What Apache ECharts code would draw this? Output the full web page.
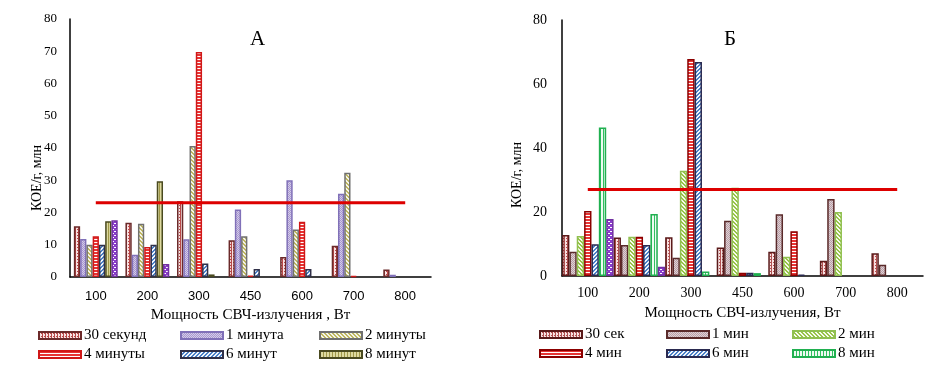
<!DOCTYPE html>
<html><head><meta charset="utf-8">
<script src="https://cdn.jsdelivr.net/npm/echarts@6/dist/echarts.min.js"></script>
<style>html,body{margin:0;padding:0;background:#fff}#c{width:943px;height:373px}</style>
</head><body><div id="c"></div>
<script>
// ---------- DATA ----------
const categories = ['100','200','300','450','600','700','800'];
const namesA = ['30 секунд','1 минута','2 минуты','4 минуты','6 минут','8 минут'];
const namesB = ['30 сек','1 мин','2 мин','4 мин','6 мин','8 мин'];
// Panel А
const a30s  = [15.7, 16.8, 23.5, 11.4, 6.2, 9.7, 2.3];
const a1m   = [11.8, 6.9, 11.7, 20.9, 30.0, 25.8, 0.7];
const a2m   = [10.0, 16.5, 40.6, 12.6, 14.7, 32.3, 0];
const a4m   = [12.6, 9.3, 69.8, 0.4, 17.1, 0.3, 0];
const a6m   = [10.0, 10.0, 4.2, 2.5, 2.5, 0, 0];
const a8m   = [17.3, 29.7, 0.8, 0, 0, 0, 0];
const aExtra = [17.6, 4.0, 0, 0, 0, 0, 0];
const aThreshold = [23, 23, 23, 23, 23, 23, 23];
// Panel Б
const b30s  = [12.8, 12.0, 12.1, 8.9, 7.6, 4.8, 7.1];
const b1m   = [7.6, 9.7, 5.7, 17.3, 19.3, 24.1, 3.5];
const b2m   = [12.5, 12.3, 32.9, 27.6, 6.0, 20.0, 0];
const b4m   = [20.3, 12.3, 67.8, 1.0, 14.0, 0, 0];
const b6m   = [9.9, 9.7, 66.9, 1.0, 0.4, 0, 0];
const b8m   = [46.4, 19.4, 1.4, 0.9, 0, 0, 0];
const bExtra = [17.8, 2.9, 0, 0, 0, 0, 0];
const bThreshold = [27, 27, 27, 27, 27, 27, 27];

// ---------- PATTERNS ----------
function pat(w, h, bg, draw) {
  const c = document.createElement('canvas'); c.width = w; c.height = h;
  const x = c.getContext('2d'); x.fillStyle = bg; x.fillRect(0, 0, w, h);
  draw(x); return { image: c, repeat: 'repeat' };
}
function dots(bg, fg) { return pat(3, 3, bg, x => { x.fillStyle = fg; x.fillRect(0, 0, 1, 3); x.fillRect(2, 1, 1, 1); }); }
function checker(bg, fg) { return pat(2, 2, bg, x => { x.fillStyle = fg; x.fillRect(0, 0, 1, 1); x.fillRect(1, 1, 1, 1); }); }
function back(bg, fg) { return pat(4, 4, bg, x => { x.fillStyle = fg; for (let i = 0; i < 4; i++) { x.fillRect(i, i, 1, 1); x.fillRect(i, (i + 1) % 4, 1, 1); } }); }
function fwd(bg, fg) { return pat(4, 4, bg, x => { x.fillStyle = fg; for (let i = 0; i < 4; i++) { x.fillRect(i, 3 - i, 1, 1); x.fillRect(i, (4 - i) % 4, 1, 1); } }); }
function hstripe(bg, fg) { return pat(1, 3, bg, x => { x.fillStyle = fg; x.fillRect(0, 2, 1, 1); }); }
function vstripe(bg, fg) { return pat(3, 1, bg, x => { x.fillStyle = fg; x.fillRect(0, 0, 1, 1); }); }
function cross(bg, fg) { return pat(4, 4, bg, x => { x.fillStyle = fg; x.fillRect(1, 1, 1, 1); x.fillRect(3, 3, 1, 1); x.fillRect(0,1,1,1); x.fillRect(2,3,1,1);}); }

const stylesA = [
  { fill: dots('#f8e2e2', '#b84848'), border: '#6b2a2a' },
  { fill: checker('#d4cce8', '#a898d0'), border: '#8070b8' },
  { fill: back('#f4f4ea', '#c0b860'), border: '#707070' },
  { fill: hstripe('#e83434', '#ffffff'), border: '#d01818' },
  { fill: fwd('#f2f6fc', '#4a80c8'), border: '#303048' },
  { fill: vstripe('#dedaa0', '#a09848'), border: '#4a4a20' },
  { fill: cross('#8a3ccc', '#ffffff'), border: '#7030a0' }
];
const stylesB = [
  { fill: dots('#f8e2e2', '#b05050'), border: '#5a1a1a' },
  { fill: checker('#e0d0d4', '#b8a0a8'), border: '#5a2a2a' },
  { fill: back('#f6faee', '#98c448'), border: '#90c050' },
  { fill: hstripe('#e83434', '#ffffff'), border: '#8b0000' },
  { fill: fwd('#f2f6fc', '#4a80c8'), border: '#2a2a50' },
  { fill: vstripe('#eefaf2', '#30c060'), border: '#20b050' },
  { fill: cross('#8a3ccc', '#ffffff'), border: '#7030a0' }
];

const serif = 'Liberation Serif';
const dataA = [a30s, a1m, a2m, a4m, a6m, a8m, aExtra];
const dataB = [b30s, b1m, b2m, b4m, b6m, b8m, bExtra];

const series = [];
function addBars(names, data, styles, idx, gap) {
  data.forEach((d, i) => {
    series.push({
      type: 'bar', name: i < 6 ? names[i] : (idx === 0 ? 'А-доп' : 'Б-доп'),
      xAxisIndex: idx, yAxisIndex: idx, data: d.map(v => (v === 0 ? null : v)),
      barGap: '0%', barCategoryGap: gap,
      itemStyle: { color: styles[i].fill, borderColor: styles[i].border, borderWidth: 1.5 },
      emphasis: { disabled: true }
    });
  });
}
addBars(namesA, dataA, stylesA, 0, '15%');
addBars(namesB, dataB, stylesB, 1, '0%');
series.push({ type: 'line', name: 'порог А', xAxisIndex: 0, yAxisIndex: 0, data: aThreshold, symbol: 'none', z: 10, lineStyle: { color: '#dd0000', width: 3 } });
series.push({ type: 'line', name: 'порог Б', xAxisIndex: 1, yAxisIndex: 1, data: bThreshold, symbol: 'none', z: 10, lineStyle: { color: '#dd0000', width: 3 } });

const legends = [];
const legPosA = [[38, 328], [180, 328], [319, 328], [38, 347], [180, 347], [319, 347]];
const legPosB = [[539, 327], [666, 327], [792, 327], [539, 346], [666, 346], [792, 346]];
function addLegends(names, pos) {
  names.forEach((n, i) => legends.push({
    data: [n], left: pos[i][0], top: pos[i][1], itemWidth: 42, itemHeight: 7, itemGap: 4,
    selectedMode: false, icon: 'rect', padding: 0,
    itemStyle: { borderWidth: 2 },
    textStyle: { fontFamily: serif, fontSize: 15, color: '#000', padding: [0, 0, 0, -2] }
  }));
}
addLegends(namesA, legPosA);
addLegends(namesB, legPosB);

const axisLine = { show: true, lineStyle: { color: '#000', width: 1.5 } };
const option = {
  animation: false,
  title: [
    { text: 'А', left: 245, top: 24, textStyle: { fontFamily: serif, fontSize: 21, fontWeight: 'normal', color: '#000' } },
    { text: 'Б', left: 719, top: 24, textStyle: { fontFamily: serif, fontSize: 21, fontWeight: 'normal', color: '#000' } }
  ],
  legend: legends,
  grid: [
    { left: 70, width: 361, top: 19, height: 258 },
    { left: 562, width: 361, top: 20, height: 256 }
  ],
  xAxis: [
    { type: 'category', gridIndex: 0, data: categories, axisLine, axisTick: { show: false },
      axisLabel: { fontFamily: 'Liberation Sans', fontSize: 13, color: '#000', margin: 13 },
      name: 'Мощность СВЧ-излучения , Вт', nameLocation: 'middle', nameGap: 30,
      nameTextStyle: { fontFamily: serif, fontSize: 15, color: '#000' } },
    { type: 'category', gridIndex: 1, data: categories, axisLine, axisTick: { show: false },
      axisLabel: { fontFamily: serif, fontSize: 14, color: '#000', margin: 10 },
      name: 'Мощность СВЧ-излучения, Вт', nameLocation: 'middle', nameGap: 30,
      nameTextStyle: { fontFamily: serif, fontSize: 15, color: '#000' } }
  ],
  yAxis: [
    { type: 'value', gridIndex: 0, min: 0, max: 80, interval: 10, axisLine, axisTick: { show: false }, splitLine: { show: false },
      axisLabel: { fontFamily: serif, fontSize: 13, color: '#000', margin: 13 } },
    { type: 'value', gridIndex: 1, min: 0, max: 80, interval: 20, axisLine, axisTick: { show: false }, splitLine: { show: false },
      axisLabel: { fontFamily: serif, fontSize: 14, color: '#000', margin: 15 } }
  ],
  graphic: [
    { type: 'text', x: 37, y: 178, rotation: Math.PI / 2, style: { text: 'КОЕ/г, млн', font: '14px "Liberation Serif"', fill: '#000', align: 'center', verticalAlign: 'middle' } },
    { type: 'text', x: 517, y: 175, rotation: Math.PI / 2, style: { text: 'КОЕ/г, млн', font: '14px "Liberation Serif"', fill: '#000', align: 'center', verticalAlign: 'middle' } }
  ],
  series
};
const chart = echarts.init(document.getElementById('c'), null, { renderer: 'canvas' });
chart.setOption(option);
</script></body></html>
